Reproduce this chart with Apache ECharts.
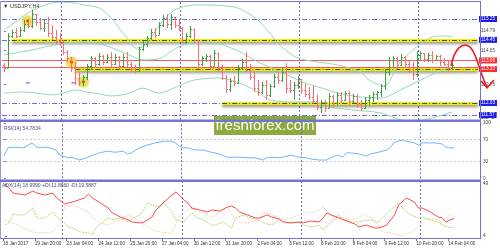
<!DOCTYPE html>
<html><head><meta charset="utf-8">
<script src="https://cdn.jsdelivr.net/npm/echarts@6/dist/echarts.min.js"></script>
<style>html,body{margin:0;padding:0;background:#fff}#c{width:500px;height:250px}</style>
</head><body><div id="c"></div>
<script>
// ---------- DATA ----------
const symbolTitle = '\u25BC USDJPY,H4';
const rsiTitle = 'RSI(14) 54.7834';
const adxTitle = 'ADX(14) 18.9990 +DI:11.8660 -DI:19.5887';
const xTickLabels = ['18 Jan 2017','19 Jan 20:00','23 Jan 04:00','24 Jan 12:00','25 Jan 20:00','27 Jan 04:00','30 Jan 12:00','31 Jan 20:00','2 Feb 04:00','3 Feb 12:00','6 Feb 20:00','8 Feb 04:00','9 Feb 12:00','10 Feb 20:00','14 Feb 04:00'];
const xTickBars = [-0.5,7.5,15.5,23.5,31.5,39.5,47.5,55.5,63.5,71.5,79.5,87.5,95.5,103.5,111.5];
const weekSeparators = [14.5,44.5,74.5,104.5];
const priceTicks = [114.79,114.05,112.75,111.45];
const rsiTicks = [100,70,30,0];
const rsiLevels = [70,30];
const adxTicks = [49,4];

const opens = [113.49,113.37,114.60,114.75,114.60,114.83,115.06,114.98,115.44,115.13,114.90,115.10,114.71,114.56,114.41,114.33,113.99,113.76,113.37,112.99,112.84,113.03,113.45,113.76,113.53,113.83,113.60,113.79,113.53,113.79,113.45,113.79,113.53,113.33,113.26,114.10,114.29,114.52,114.75,114.64,115.02,115.29,115.06,115.33,115.02,114.90,114.37,114.60,114.87,114.45,113.53,113.76,113.83,113.45,113.95,113.37,112.99,112.57,112.87,112.80,113.37,113.60,113.30,113.03,112.61,112.45,112.72,112.34,112.68,113.03,112.91,113.22,112.61,112.53,112.72,112.95,112.53,112.38,112.26,112.11,111.88,112.07,111.84,112.30,112.03,112.34,112.15,112.41,112.11,112.30,111.99,111.84,112.15,112.26,112.38,112.45,112.68,113.22,113.68,113.76,113.49,113.79,113.53,113.33,113.14,113.87,113.95,113.72,113.87,113.68,113.83,113.60,113.53,113.37];
const closes = [113.37,114.60,114.75,114.60,114.83,115.06,114.98,115.44,115.13,114.90,115.10,114.71,114.56,114.41,114.33,113.99,113.76,113.37,112.99,112.84,113.03,113.45,113.76,113.53,113.83,113.60,113.79,113.53,113.79,113.45,113.79,113.53,113.33,113.26,114.10,114.29,114.52,114.75,114.64,115.02,115.29,115.06,115.33,115.02,114.90,114.37,114.60,114.87,114.45,113.53,113.76,113.83,113.45,113.95,113.37,112.99,112.57,112.87,112.80,113.37,113.60,113.30,113.03,112.61,112.45,112.72,112.34,112.68,113.03,112.91,113.22,112.61,112.53,112.72,112.95,112.53,112.38,112.26,112.11,111.88,112.07,111.84,112.30,112.03,112.34,112.15,112.41,112.11,112.30,111.99,111.84,112.15,112.26,112.38,112.45,112.68,113.22,113.68,113.76,113.49,113.79,113.53,113.33,113.14,113.87,113.95,113.72,113.87,113.68,113.83,113.60,113.53,113.37,113.49];
const lows = [113.22,113.37,114.52,114.52,114.56,114.75,114.90,114.90,114.98,114.83,114.75,114.56,114.45,114.29,114.21,113.87,113.60,113.22,112.72,112.68,112.68,112.91,113.30,113.37,113.45,113.49,113.56,113.41,113.49,113.30,113.41,113.37,113.22,113.18,113.22,114.02,114.18,114.45,114.52,114.64,114.94,114.90,114.83,114.90,114.79,114.29,114.29,114.52,114.33,113.33,113.45,113.60,113.30,113.45,113.22,112.91,112.41,112.45,112.68,112.76,113.30,113.22,112.91,112.45,112.30,112.38,112.15,112.26,112.61,112.76,112.84,112.38,112.41,112.15,112.57,112.38,112.26,112.15,111.99,111.76,111.65,111.69,111.84,111.84,111.95,112.03,112.11,111.95,112.03,111.84,111.72,111.80,111.95,112.07,112.15,112.26,112.53,113.07,113.37,113.33,113.45,113.37,113.18,112.91,113.03,113.68,113.60,113.60,113.56,113.64,113.45,113.45,113.26,113.30];
const highs = [113.56,114.71,114.83,114.90,114.94,115.21,115.25,115.60,115.44,115.29,115.21,115.33,115.02,114.83,114.71,114.45,114.06,113.79,113.60,113.22,113.10,113.53,113.83,113.79,113.95,113.87,113.91,113.99,113.91,113.83,113.91,113.99,113.60,113.49,114.18,114.41,114.60,114.87,114.90,115.13,115.40,115.44,115.44,115.33,115.21,114.94,114.71,114.98,114.87,114.45,113.83,113.91,113.87,114.06,113.95,113.49,113.10,112.99,113.07,113.49,113.72,113.99,113.53,113.22,112.91,112.84,112.91,112.76,113.14,113.22,113.37,113.56,112.91,112.84,113.07,112.95,112.76,112.64,112.68,112.34,112.15,112.15,112.41,112.34,112.45,112.45,112.49,112.49,112.38,112.38,112.15,112.26,112.34,112.45,112.49,112.76,113.33,113.79,113.83,113.79,113.91,113.83,113.64,113.60,114.02,114.02,113.95,113.95,114.02,113.87,113.87,113.76,113.68,113.56];

// Bollinger band lines: [bar, price]
const bbUpper = [[0,114.83],[3,115.14],[6,115.48],[9,115.71],[14,115.90],[18,115.86],[20,115.79],[24,115.67],[27,115.29],[30,114.71],[32,114.33],[33,114.14],[35,114.18],[37,114.52],[39,114.98],[41,115.33],[43,115.59],[46,115.75],[50,115.79],[58,115.71],[61,115.52],[64,115.21],[67,114.71],[69,114.33],[71,114.06],[74,113.76],[79,113.60],[84,113.49],[90,113.22],[92,112.91],[96,112.68],[98,113.10],[100,113.60],[104,114.18],[108,114.56],[111,114.60],[113,114.56]];
const bbMiddle = [[0,113.87],[7,114.06],[14,114.29],[21,114.37],[26,114.21],[31,113.91],[35,113.68],[39,113.72],[42,113.99],[44,114.18],[47,114.33],[52,114.37],[56,114.21],[60,113.95],[64,113.60],[67,113.41],[73,112.99],[75,112.84],[80,112.61],[85,112.38],[90,112.26],[95,112.22],[100,112.53],[105,112.91],[110,113.26],[113,113.41]];
const bbLower = [[0,112.41],[5,112.45],[8,112.41],[12,112.34],[15,112.41],[18,112.53],[21,112.45],[24,112.38],[27,112.30],[31,112.38],[35,112.60],[39,112.41],[44,112.68],[48,112.91],[54,112.99],[60,112.76],[64,112.45],[67,112.15],[73,112.07],[78,112.07],[82,111.88],[88,111.76],[95,111.65],[100,111.38],[104,111.34],[108,111.46],[113,111.69]];

// Horizontal levels
const blueLevels = [[115.25,-0.5],[114.45,-0.5,2],[112.03,-0.5,55],[111.57,-0.5]];   // price, from bar, to bar (optional)
const yellowLevels = [[114.45,2],[113.33,18],[112.03,55]];                              // price, from bar
const redLevels = [113.66,113.41];
const blueLabels = [115.25,114.45,112.03,111.57];
const redLabels = [113.66,113.41,113.33];
const fractalMarks = [[6,115.17],[17,113.60],[20,112.84]];
const blueDashMarks = [[6,112.80],[17.5,112.80]];
// forecast arrow (annotation) [bar, price]
const arrowCurve = [[112.7,113.45],[113.5,113.87],[114.7,114.14],[116.2,114.25],[117.7,114.14],[119.0,113.76],[120.3,113.18],[121.8,112.61]];
const arrowHead = [[120.3,112.87],[121.8,112.61],[123.5,112.91]];

// RSI [bar, value]
const rsi = [[0,41],[1,55],[2,56],[3,56],[5,55],[7,64],[8,57],[9,55],[10,56],[11,56],[13,51],[14,42],[16,37],[17,38],[19,33],[21,38],[24,46],[26,49],[28,47],[30,49],[31,44],[32,46],[34,55],[36,60],[38,64],[40,67],[42,67],[43,64],[44,58],[45,55],[46,55],[48,51],[50,51],[52,47],[54,44],[56,38],[59,38],[61,37],[63,37],[65,33],[66,37],[67,38],[69,37],[70,38],[72,42],[74,38],[76,37],[77,35],[79,33],[81,33],[82,37],[83,40],[84,42],[85,38],[86,46],[87,46],[89,44],[91,40],[92,44],[94,47],[96,51],[97,56],[98,65],[100,69],[101,67],[103,64],[104,60],[105,64],[107,64],[108,64],[110,62],[111,56],[112,55],[113,54.8]];
// ADX
const adx = [[0,48],[1,45.5],[2,41.2],[5,39.5],[7,42.9],[8,41.2],[10,39.5],[12,41.2],[13,36.9],[15,31.7],[16,32.6],[17,33.4],[20,36.9],[21,40.3],[22,36.9],[24,32.6],[26,28.2],[27,23.9],[29,20.5],[31,17.9],[32,16.1],[34,15.3],[35,16.1],[37,20.5],[38,26.5],[40,33.4],[42,39.5],[43,42.1],[45,35.2],[46,32.6],[47,28.2],[49,26.5],[51,24.8],[52,26.5],[54,25.6],[56,29.1],[57,30.0],[58,28.2],[59,24.8],[61,22.2],[63,19.6],[64,19.6],[66,22.2],[67,20.5],[69,18.7],[70,16.1],[72,15.3],[74,16.1],[75,15.3],[77,17.0],[79,16.1],[80,19.6],[81,23.9],[82,22.2],[84,19.6],[86,17.0],[88,14.4],[89,11.8],[91,13.5],[93,10.9],[94,10.9],[96,13.5],[98,22.2],[99,30.8],[101,36.9],[103,33.4],[104,28.2],[105,28.2],[107,24.8],[109,20.5],[110,19.6],[111,16.1],[112,17.9],[113,19.0]];
const plusDI = [[0,13.5],[1,15.3],[2,23.1],[3,22.2],[5,22.2],[7,28.2],[8,19.6],[10,19.6],[12,24.8],[13,20.5],[15,15.3],[16,11.8],[17,10.9],[19,7.5],[21,6.6],[22,4.9],[23,11.8],[26,19.6],[27,17.9],[29,19.6],[31,16.1],[32,19.6],[34,22.2],[36,32.6],[37,30.8],[39,29.1],[40,32.6],[42,24.8],[43,17.9],[45,16.1],[47,23.9],[48,20.5],[50,17.9],[52,13.5],[53,13.5],[55,16.1],[57,10.9],[58,19.6],[60,22.2],[62,19.6],[64,17.9],[65,15.3],[67,13.5],[69,17.9],[70,16.1],[72,15.3],[74,16.1],[75,13.5],[77,11.8],[79,13.5],[80,9.2],[82,16.1],[84,22.2],[85,17.9],[87,16.1],[89,16.1],[90,17.0],[92,17.9],[94,16.1],[95,19.6],[97,26.5],[99,32.6],[100,28.2],[102,22.2],[104,19.6],[105,20.5],[107,17.9],[109,16.1],[110,13.5],[112,10.9],[113,11.9]];
const minusDI = [[0,17.9],[2,15.3],[4,11.8],[7,7.5],[9,6.6],[12,7.5],[14,16.1],[15,29.1],[17,30.8],[19,28.2],[21,24.8],[22,19.6],[24,15.3],[26,13.5],[27,15.3],[29,17.9],[31,22.2],[32,20.5],[34,16.1],[36,11.8],[37,9.2],[39,7.5],[41,6.6],[42,6.6],[44,22.2],[46,26.5],[47,28.2],[49,24.8],[51,22.2],[52,19.6],[54,24.8],[56,29.1],[57,22.2],[59,16.1],[61,15.3],[64,17.9],[65,24.8],[67,22.2],[69,19.6],[70,17.9],[72,19.6],[74,22.2],[75,24.8],[77,23.9],[79,26.5],[80,29.1],[82,22.2],[84,20.5],[85,19.6],[87,17.9],[89,19.6],[90,23.1],[92,19.6],[94,13.5],[95,7.5],[97,6.6],[99,4.9],[100,3.2],[102,7.5],[104,11.8],[105,17.9],[107,19.6],[109,17.9],[110,15.3],[112,22.2],[113,19.6]];

// ---------- STYLE ----------
const UP = '#3f9f3f', DOWN = '#ff6a6a', FRAME = '#7474cc', FONT = 'Liberation Sans';
const BB = '#96d8b0', ARROW = '#ee1c1c';
const FS = 4.7;

const chart = echarts.init(document.getElementById('c'), null, {renderer:'canvas', width:500, height:250});

function ohlcItem(params, api){
  const i = api.value(0), o = api.value(1), c = api.value(2), l = api.value(3), h = api.value(4);
  const pH = api.coord([i,h]), pL = api.coord([i,l]), pO = api.coord([i,o]), pC = api.coord([i,c]);
  const col = c >= o ? UP : DOWN;
  const x = Math.round(pH[0]) + 0.5;
  const yo = Math.round(pO[1]) + 0.5, yc = Math.round(pC[1]) + 0.5;
  return {type:'group', children:[
    {type:'line', shape:{x1:x,y1:pH[1],x2:x,y2:pL[1]}, style:{stroke:col,lineWidth:1}},
    {type:'line', shape:{x1:x-1.5,y1:yo,x2:x,y2:yo}, style:{stroke:col,lineWidth:1}},
    {type:'line', shape:{x1:x,y1:yc,x2:x+1.5,y2:yc}, style:{stroke:col,lineWidth:1}}
  ]};
}
const ohlcData = opens.map((o,i)=>[i,o,closes[i],lows[i],highs[i]]);

// forecast arrow: whole path drawn once through the axis scales
function arrowItem(params, api){
  if (params.dataIndex !== 0) return null;
  const pts = arrowCurve.map(p=>api.coord(p));
  const head = arrowHead.map(p=>api.coord(p));
  return {type:'group', children:[
    {type:'polyline', shape:{points:pts, smooth:0.35}, style:{stroke:ARROW, lineWidth:1.6, fill:null}},
    {type:'polyline', shape:{points:head}, style:{stroke:ARROW, lineWidth:1.6, fill:null}}
  ]};
}

const XMIN = -0.5, XMAX = 119.5, YMIN = 111.378, YMAX = 115.901;
const xAx = (gi, show) => ({type:'value', gridIndex:gi, min:XMIN, max:XMAX, show:true,
  axisLine:{show:false}, splitLine:{show:false},
  axisTick: show ? {show:true, customValues:xTickBars, length:2, lineStyle:{color:FRAME}, inside:false} : {show:false},
  axisLabel: show ? {show:true, customValues:xTickBars, formatter:v=>xTickLabels[Math.round((v+0.5)/8)],
     align:'left', fontSize:4.6, color:'#333', fontFamily:FONT, margin:2.5, hideOverlap:false} : {show:false}});
const yAx = (gi, min, max, ticks, fmt, extra) => Object.assign({type:'value', gridIndex:gi, min, max, position:'right',
  axisLine:{show:false}, splitLine:{show:false},
  axisTick:{show:true, customValues:ticks, length:2, lineStyle:{color:FRAME}},
  axisLabel:{show:true, customValues:ticks, formatter:fmt, fontSize:FS, color:'#444', fontFamily:FONT, margin:3}}, extra||{});
const boxAx = (vals, bg) => ({type:'value', gridIndex:0, min:YMIN, max:YMAX, position:'right',
  axisLine:{show:false}, splitLine:{show:false}, axisTick:{show:false},
  axisLabel:{show:true, customValues:vals, formatter:v=>v.toFixed(2), fontSize:FS, color:'#ffffff', fontFamily:FONT,
    backgroundColor:bg, padding:[1,2,0,2], margin:1, showMinLabel:true, showMaxLabel:true}});

const sepLines = gi => ({type:'line', xAxisIndex:gi, yAxisIndex:gi, data:[], silent:true, z:1,
  markLine:{silent:true, symbol:'none', animation:false, label:{show:false},
    lineStyle:{color:'#6a6acc', type:[2,2], width:1}, data: weekSeparators.map(v=>({xAxis:v}))}});

const seg = (p, a, b) => [{coord:[a,p]},{coord:[b===undefined?XMAX:b,p]}];

const series = [
  sepLines(0), sepLines(1), sepLines(2),
  // blue dash-dot levels
  {type:'line', xAxisIndex:0, yAxisIndex:0, data:[], z:2,
    markLine:{silent:true, symbol:'none', animation:false, label:{show:false},
      lineStyle:{color:'#6b6be0', type:[5,2,1,2], width:1},
      data: blueLevels.map(l=>seg(l[0], l[1], l[2]))}},
  // red levels
  {type:'line', xAxisIndex:0, yAxisIndex:0, data:[], z:2,
    markLine:{silent:true, symbol:'none', animation:false, label:{show:false},
      lineStyle:{color:'#ff5a5a', type:'solid', width:1},
      data: redLevels.map(p=>seg(p, XMIN))}},
  // yellow highlighted levels
  {type:'line', xAxisIndex:0, yAxisIndex:0, data:[], z:3,
    markLine:{silent:true, symbol:'none', animation:false, label:{show:false},
      lineStyle:{color:'#f2f000', type:'solid', width:3, shadowBlur:3, shadowColor:'rgba(0,0,0,0.45)', shadowOffsetY:2},
      data: yellowLevels.map(l=>seg(l[0], l[1]))}},
  {type:'line', xAxisIndex:0, yAxisIndex:0, data:[], z:4,
    markLine:{silent:true, symbol:'none', animation:false, label:{show:false},
      lineStyle:{color:'#4a4a10', type:[5,2,1,2], width:1},
      data: yellowLevels.map(l=>seg(l[0], l[1]))}},
  // Bollinger bands
  ...[bbUpper,bbMiddle,bbLower].map(d=>({type:'line', xAxisIndex:0, yAxisIndex:0, data:d, symbol:'none', smooth:0.3, z:5,
      lineStyle:{color:BB, width:1}, silent:true})),
  // price bars
  {type:'custom', xAxisIndex:0, yAxisIndex:0, data:ohlcData, renderItem:ohlcItem, encode:{x:0,y:[1,2,3,4]}, z:6,
    markPoint:{silent:true, animation:false, data:[
      ...fractalMarks.map(m=>({coord:m, symbol:'circle', symbolSize:11, itemStyle:{color:'rgba(232,222,70,0.75)', shadowBlur:3, shadowColor:'rgba(220,210,60,0.8)'}, label:{show:false}})),
      ...fractalMarks.map(m=>({coord:m, symbol:'circle', symbolSize:3, itemStyle:{color:'#ff2020'}, label:{show:false}})),
      ...blueDashMarks.map(m=>({coord:m, symbol:'rect', symbolSize:[4,1], itemStyle:{color:'#4d4de0'}, label:{show:false}}))
    ]}},
  // forecast arrow
  {type:'custom', xAxisIndex:0, yAxisIndex:0, data:arrowCurve, renderItem:arrowItem, clip:false, z:30, silent:true},
  // RSI
  {type:'line', xAxisIndex:1, yAxisIndex:1, data:rsi, symbol:'none', lineStyle:{color:'#6fb4ff', width:1}, z:5, silent:true,
    markLine:{silent:true, symbol:'none', animation:false, label:{show:false}, lineStyle:{color:'#c9c9c9', type:[2,2], width:1},
      data: rsiLevels.map(v=>({yAxis:v}))}},
  // ADX
  {type:'line', xAxisIndex:2, yAxisIndex:2, data:plusDI, symbol:'none', lineStyle:{color:'#b9d46e', width:1, type:[2,1]}, z:5, silent:true},
  {type:'line', xAxisIndex:2, yAxisIndex:2, data:minusDI, symbol:'none', lineStyle:{color:'#f6d4b8', width:1, type:[2,1]}, z:5, silent:true},
  {type:'line', xAxisIndex:2, yAxisIndex:2, data:adx, symbol:'none', lineStyle:{color:'#ff4a4a', width:1}, z:6, silent:true}
];

const option = {
  animation:false,
  backgroundColor:'#ffffff',
  grid:[
    {left:2, top:2, width:478, height:118},
    {left:2, top:122.9, width:478, height:55.4},
    {left:2, top:182, width:478, height:57}
  ],
  xAxis:[xAx(0,false), xAx(1,false), xAx(2,true)],
  yAxis:[
    yAx(0, YMIN, YMAX, priceTicks, v=>v.toFixed(2)),
    yAx(1, 0, 100, rsiTicks, v=>String(v)),
    yAx(2, 1.40, 50.73, adxTicks, v=>String(v)),
    boxAx(blueLabels, '#1c1cf0'),
    boxAx(redLabels.slice().reverse(), '#ff2a2a')
  ],
  series,
  graphic:[
    {type:'line', shape:{x1:0,y1:1.5,x2:480,y2:1.5}, style:{stroke:FRAME,lineWidth:1}, z:50},
    {type:'line', shape:{x1:0.5,y1:1,x2:0.5,y2:239}, style:{stroke:'#9a9acc',lineWidth:1}, z:50},
    {type:'rect', shape:{x:0,y:119.5,width:480,height:2.5}, style:{fill:FRAME}, z:50},
    {type:'rect', shape:{x:0,y:179.5,width:480,height:2.5}, style:{fill:FRAME}, z:50},
    {type:'line', shape:{x1:0,y1:238.5,x2:480,y2:238.5}, style:{stroke:FRAME,lineWidth:1}, z:50},
    {type:'line', shape:{x1:480.5,y1:1,x2:480.5,y2:239}, style:{stroke:FRAME,lineWidth:1}, z:50},
    {type:'text', left:3, top:3, style:{text:symbolTitle, fontSize:5.5, fontFamily:FONT, fill:'#333'}, z:60},
    {type:'text', left:4, top:126, style:{text:rsiTitle, fontSize:5, fontFamily:FONT, fill:'#4a4a80'}, z:60},
    {type:'text', left:2, top:183.5, style:{text:adxTitle, fontSize:5, fontFamily:FONT, fill:'#4a4a80'}, z:60},
    {type:'group', left:214, top:116, z:70, children:[
      {type:'rect', shape:{x:0,y:0,width:102,height:19}, style:{fill:'#8dab3c'}},
      {type:'text', style:{text:'freshforex.com', x:51, y:10, align:'center', verticalAlign:'middle', fontSize:15, fontFamily:FONT, fill:'#ffffff'}}
    ]}
  ]
};
chart.setOption(option);
</script></body></html>
